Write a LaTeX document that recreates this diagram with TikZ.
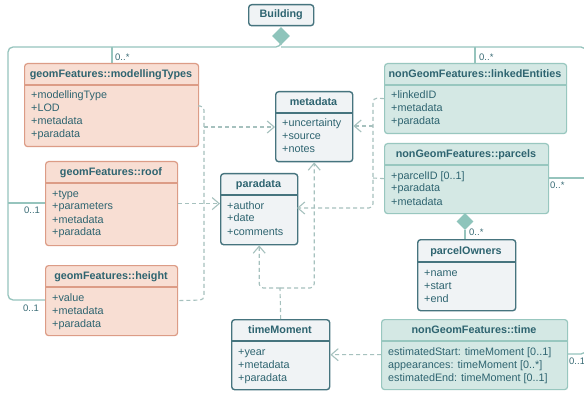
\documentclass[tikz,border=0pt]{standalone}
\usepackage{fontspec}
\setmainfont{Liberation Sans}
\usetikzlibrary{arrows.meta,shapes.geometric}
\definecolor{txt}{HTML}{2E6470}
\definecolor{lblC}{HTML}{3A6C76}
\definecolor{salF}{HTML}{F8DED3}
\definecolor{salB}{HTML}{DC9C86}
\definecolor{tealF}{HTML}{D4E8E4}
\definecolor{tealB}{HTML}{98C7BF}
\definecolor{grayF}{HTML}{F0F3F5}
\definecolor{grayB}{HTML}{46747E}
\definecolor{lineC}{HTML}{96C4BD}
\definecolor{diaC}{HTML}{8EC4BB}
\definecolor{dashC}{HTML}{A6C1BE}
\tikzset{
  boxbase/.style={draw, rounded corners=3pt, line width=1.2pt, inner sep=0pt},
  salmon/.style={boxbase, fill=salF, draw=salB},
  salmonsep/.style={draw=salB, line width=1.2pt},
  teal/.style={boxbase, fill=tealF, draw=tealB},
  tealsep/.style={draw=tealB, line width=1.2pt},
  gray/.style={boxbase, fill=grayF, draw=grayB, line width=1.4pt},
  graysep/.style={draw=grayB, line width=1.4pt},
  hdr/.style={font=\fontsize{10.8}{13}\selectfont\bfseries, text=txt, inner sep=0pt},
  attr/.style={font=\fontsize{10.8}{13}\selectfont, text=txt, inner sep=0pt},
  lbl/.style={font=\fontsize{9.5}{11}\selectfont, text=lblC, inner sep=0pt},
  conn/.style={draw=lineC, line width=1.3pt, rounded corners=5pt},
  dconn/.style={draw=dashC, line width=1.1pt, dash pattern=on 4pt off 3pt, rounded corners=4pt},
  arr/.style={-{Straight Barb[length=7pt,width=12pt]}},
  dia/.style={diamond, fill=diaC, inner sep=0pt, minimum width=18pt, minimum height=18pt}
}
\newcommand{\umlclass}[9]{%
  \pgfmathsetmacro{\bw}{#5-#3}\pgfmathsetmacro{\bh}{#6-#4}%
  \node[#2, minimum width=\bw pt, minimum height=\bh pt, anchor=north west] (#1) at (#3,#4) {};
  \draw[#2sep] (#3,#7) -- (#5,#7);
  \node[hdr, anchor=base] (#1-h) at ({(#3+#5)/2},{(#4+#7)/2+3.9}) {#8};
  \foreach \t [count=\i] in {#9} {\node[attr, anchor=base west] (#1-a\i) at (#3+7,{#7+14+13*(\i-1)}) {\t};}
}
\begin{document}
\begin{tikzpicture}[x=1pt,y=-1pt]
\useasboundingbox (0,0) rectangle (584,393);
\fill[white] (0,0) rectangle (584,393);
\clip (0,0) rectangle (584,393);

% solid aggregation connectors
\node[dia] (bd) at (281,36) {};
\coordinate (jt) at (281,47);
\coordinate (lft) at (8,47);
\coordinate (rgt) at (586,47);
\coordinate (rbot) at (586,354);
\draw[conn] (bd.south) |- (lft) |- (45,300);
\draw[conn] (8,203) -- (45,203);
\draw[conn] (jt) -- (rgt) -- (rbot) -- (567,354);
\draw[conn] (112,47) -- (112,63);
\draw[conn] (475,47) -- (475,63);
\draw[conn] (548,178) -- (586,178);

% classes
\node[gray, minimum width=65pt, minimum height=21pt, anchor=north west, hdr] (bld) at (248,4) {};
\node[hdr] (bld-h) at (bld.center) {Building};

\umlclass{mt}{salmon}{24}{63}{198}{146}{85}{geomFeatures::modellingTypes}{{+modellingType},{+LOD},{+metadata},{+paradata}}
\umlclass{roof}{salmon}{45}{161}{177}{245}{183}{geomFeatures::roof}{{+type},{+parameters},{+metadata},{+paradata}}
\umlclass{height}{salmon}{45}{265}{177}{335}{287}{geomFeatures::height}{{+value},{+metadata},{+paradata}}
\umlclass{meta}{gray}{275}{91}{352}{161}{113}{metadata}{{+uncertainty},{+source},{+notes}}
\umlclass{para}{gray}{220}{173}{297}{244}{195}{paradata}{{+author},{+date},{+comments}}
\umlclass{linked}{teal}{384}{63}{566}{133}{85}{nonGeomFeatures::linkedEntities}{{+linkedID},{+metadata},{+paradata}}
\umlclass{parcels}{teal}{384}{143}{548}{213}{165}{nonGeomFeatures::parcels}{{+parcelID [0..1]},{+paradata},{+metadata}}
\umlclass{owners}{gray}{417}{239}{515}{310}{262}{parcelOwners}{{+name},{+start},{+end}}
\umlclass{tm}{gray}{231}{319}{329}{389}{341}{timeMoment}{{+year},{+metadata},{+paradata}}
\umlclass{time}{teal}{381}{319}{567}{389}{341}{nonGeomFeatures::time}{{estimatedStart: timeMoment [0..1]},{appearances: timeMoment [0..*]},{estimatedEnd: timeMoment [0..1]}}

% parcel owners aggregation
\node[dia, minimum width=17pt, minimum height=17pt] (pd) at (465,221.5) {};
\draw[conn] (pd.south) -- (pd.south |- owners.north);

% dashed dependencies, left bus
\draw[dconn] (198,106) -- (204,106) -- (204,300) -- (height.east);
\draw[dconn, arr] (roof.east) -- (roof.east -| para.west);
\draw[dconn, arr] (204,127) -- (275,127);
% right bus
\draw[dconn, arr] (linked.west) -- (373,98) -- (373,208) -- (297,208);
\draw[dconn, arr] (373,126) -- (meta.east |- 0,126);
\draw[dconn] (parcels.west) -- (373,178);
% timeMoment
\coordinate (tj) at (280,288);
\draw[dconn] (tm.north) -- (tj);
\draw[dconn, arr] (tj) -| (para.south);
\draw[dconn, arr] (tj) -| (meta.south);
\draw[dconn, arr] (time.west) -- (tm.east);

% multiplicities
\node[lbl, anchor=west] (m1) at (115,57) {0..*};
\node[lbl, anchor=west] (m2) at (479,57) {0..*};
\node[lbl] (m3) at (32,210) {0..1};
\node[lbl] (m4) at (31,308) {0..1};
\node[lbl, anchor=west] (m5) at (550,185) {0..*};
\node[lbl, anchor=west] (m6) at (469,232) {0..*};
\node[lbl, anchor=west] (m7) at (569,361) {0..1};
\end{tikzpicture}
\end{document}
